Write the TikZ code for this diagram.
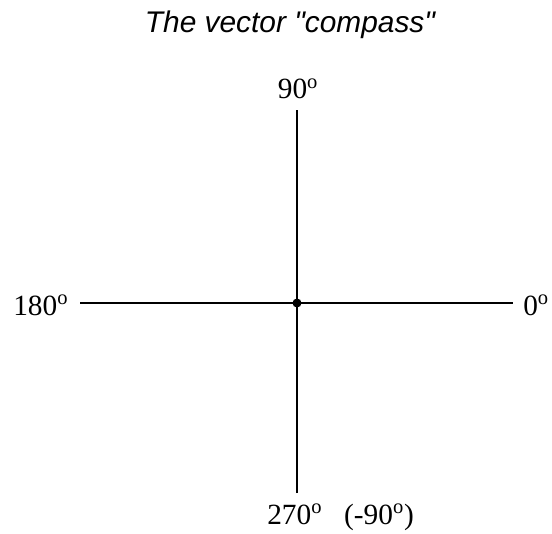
\documentclass[tikz,border=0pt]{standalone}
\usepackage{fontspec}
\setmainfont{Liberation Serif}
\newfontfamily\titlefont{Liberation Sans}
\tikzset{
  deglabel/.style={anchor=base west,inner sep=0pt,font=\fontsize{22}{24}\selectfont},
  axisline/.style={line width=1.3pt}
}
\newcommand{\dg}{\textsuperscript{o}}
\begin{document}
\begin{tikzpicture}[x=.75pt,y=.75pt]
\path[use as bounding box] (0,0) rectangle (552,533);
\node[anchor=base,inner sep=0pt,font=\titlefont\itshape\fontsize{22.4}{24}\selectfont] (title) at (290,500) {The vector "compass"};
\coordinate (center) at (297,230);
\coordinate (east) at (513,230);
\coordinate (north) at (297,423);
\coordinate (west) at (80,230);
\coordinate (south) at (297,40);
\draw[axisline] (west)--(east);
\draw[axisline] (south)--(north);
\fill (center) circle[radius=4.5];
\node[deglabel,anchor=base] (lbl90) at (298,434) {90\dg};
\node[deglabel] (lbl180) at (13,218) {180\dg};
\node[deglabel] (lbl0) at (523,218) {0\dg};
\node[deglabel] (lbl270) at (267,9) {270\dg~~~(-90\dg)};
\end{tikzpicture}
\end{document}
